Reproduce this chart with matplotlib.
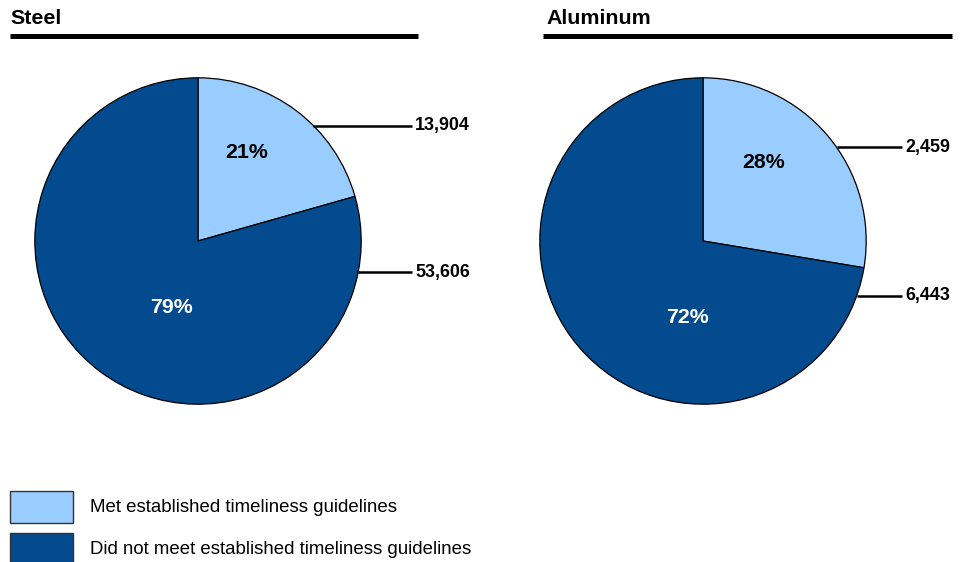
import numpy as np
import matplotlib
matplotlib.use("Agg")
import matplotlib.pyplot as plt
from matplotlib.patches import Rectangle

plt.rcParams["font.family"] = ["Liberation Sans", "DejaVu Sans"]

# data
metals = ["Steel", "Aluminum"]
met = [13904, 2459]
not_met = [53606, 6443]
legend_labels = ["Met established timeliness guidelines",
                 "Did not meet established timeliness guidelines"]

LIGHT = "#99CCFF"
DARK = "#034B8E"

W, H = 972, 562
fig = plt.figure(figsize=(W / 100, H / 100), dpi=100)

# overlay axes in pixel coordinates
ov = fig.add_axes([0, 0, 1, 1])
ov.set_xlim(0, W)
ov.set_ylim(H, 0)
ov.axis("off")

# layout (pixels / pie-radius units)
centers = [(198, 241), (703, 241)]
R = 164
title_x = [10, 546]
rule_x = [(10, 418), (543, 952)]
leader_y = [(0.707, -0.19), (0.573, -0.335)]
leader_end = [1.31, 1.22]
pct_pos = [((0.30, 0.54), (-0.165, -0.41)), ((0.37, 0.48), (-0.094, -0.47))]

for i, name in enumerate(metals):
    cx, cy = centers[i]
    ax = fig.add_axes([(cx - R) / W, 1 - (cy + R) / H, 2 * R / W, 2 * R / H])
    vals = [met[i], not_met[i]]
    ax.pie(vals, colors=[LIGHT, DARK], startangle=90, counterclock=False,
           radius=1, wedgeprops=dict(edgecolor="black", linewidth=0.9))
    ax.set_xlim(-1.005, 1.005)
    ax.set_ylim(-1.005, 1.005)
    ax.set_aspect("equal")
    ax.axis("off")

    total = sum(vals)
    for j, v in enumerate(vals):
        px, py = pct_pos[i][j]
        ax.text(px, py, f"{v / total * 100:.0f}%", ha="center", va="center",
                fontsize=15.4, fontweight="bold",
                color="black" if j == 0 else "white")
        ly = leader_y[i][j]
        lx0 = np.sqrt(1 - ly ** 2)
        ax.plot([lx0, leader_end[i]], [ly, ly], color="black", lw=1.8,
                clip_on=False, solid_capstyle="butt")
        ax.text(leader_end[i] + 0.02, ly, f"{v:,}", ha="left", va="center",
                fontsize=12.9, fontweight="bold", clip_on=False)

    ov.text(title_x[i], 18, name, ha="left", va="center", fontsize=15.4,
            fontweight="bold")
    ov.plot(rule_x[i], [35.5, 35.5], color="black", lw=3.6,
            solid_capstyle="butt")

# legend
for k, (lab, col) in enumerate(zip(legend_labels, [LIGHT, DARK])):
    y0 = 491 + k * 42
    ov.add_patch(Rectangle((10, y0), 63, 32, facecolor=col,
                           edgecolor="#333333", lw=1.0, clip_on=False))
    ov.text(90, y0 + 16, lab, ha="left", va="center", fontsize=13.4)

fig.savefig("out.png", dpi=100)
